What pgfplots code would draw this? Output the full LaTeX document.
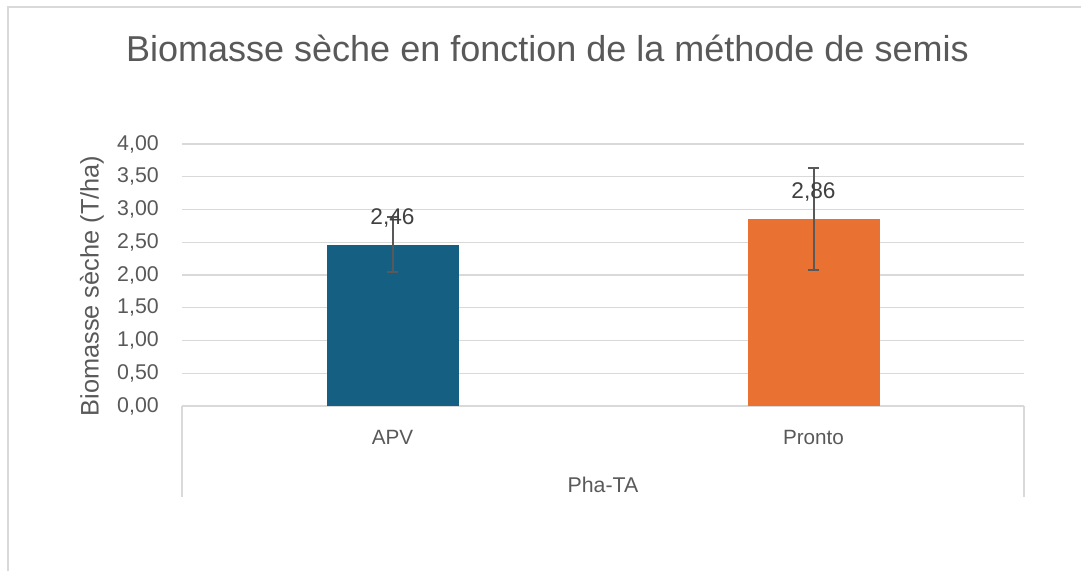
\documentclass[border=0pt]{standalone}
\usepackage{fontspec}
\setmainfont{Liberation Sans}
\usepackage{pgfplots}
\pgfplotsset{compat=1.18}
\definecolor{txt}{HTML}{595959}
\definecolor{dtxt}{HTML}{404040}
\definecolor{gridc}{HTML}{D9D9D9}
\definecolor{bleu}{HTML}{156082}
\definecolor{orng}{HTML}{E97132}
\definecolor{errc}{HTML}{595959}
\begin{document}
\begin{tikzpicture}[x=0.75pt,y=0.75pt]
\useasboundingbox (0,0) rectangle (1081,571);
\draw[gridc, line width=1.1pt] (8,0) -- (8,564) -- (1081,564);
\coordinate (sw) at (182,165);
\begin{axis}[
  at={(sw)}, anchor=south west,
  scale only axis, width=631.5pt, height=196.5pt,
  xmin=-0.5, xmax=1.5, ymin=0, ymax=4,
  ytick={0,0.5,1,1.5,2,2.5,3,3.5,4},
  xtick={0,1}, xticklabels={APV,Pronto},
  axis x line*=bottom, axis y line*=left,
  y axis line style={draw=none},
  x axis line style={gridc, line width=1.1pt, -},
  major tick length=0pt,
  ymajorgrids, major grid style={gridc, line width=1.1pt},
  /pgf/number format/.cd, fixed, fixed zerofill, precision=2, use comma, assume math mode=true,
  /pgfplots/.cd,
  yticklabel style={font=\fontsize{16}{16}\selectfont, text=txt, anchor=east, inner sep=0pt, xshift=-17.25pt},
  xticklabel style={font=\fontsize{15.5}{15.5}\selectfont, text=txt, anchor=center, inner sep=0pt, yshift=-23.25pt},
  title={Biomasse sèche en fonction de la méthode de semis},
  title style={at={(axis description cs:0.434,1.335)}, anchor=center, font=\fontsize{27}{27}\selectfont, text=txt},
  ylabel={Biomasse sèche (T/ha)},
  ylabel style={at={(axis description cs:-0.107,0.458)}, anchor=center, font=\fontsize{19}{19}\selectfont, text=txt},
  xlabel={Pha-TA},
  xlabel style={at={(axis description cs:0.5,-0.3015)}, anchor=center, font=\fontsize{16}{16}\selectfont, text=txt},
  ybar, bar width=99pt, bar shift=0pt,
  nodes near coords,
  nodes near coords style={font=\fontsize{17}{17}\selectfont, text=dtxt, anchor=center, yshift=20pt},
  error bars/y dir=both, error bars/y explicit,
  error bars/error bar style={draw=errc, line width=1.5pt},
  error bars/error mark options={rotate=90, draw=errc, mark size=4.1pt, line width=1.5pt},
]
\addplot[fill=bleu, draw=none] coordinates {(0,2.46) +- (0,0.42)};
\addplot[fill=orng, draw=none] coordinates {(1,2.86) +- (0,0.78)};
\end{axis}
\draw[gridc, line width=1.1pt] (182,165) -- (182,74);
\draw[gridc, line width=1.1pt] (1024,165) -- (1024,74);
\end{tikzpicture}
\end{document}
